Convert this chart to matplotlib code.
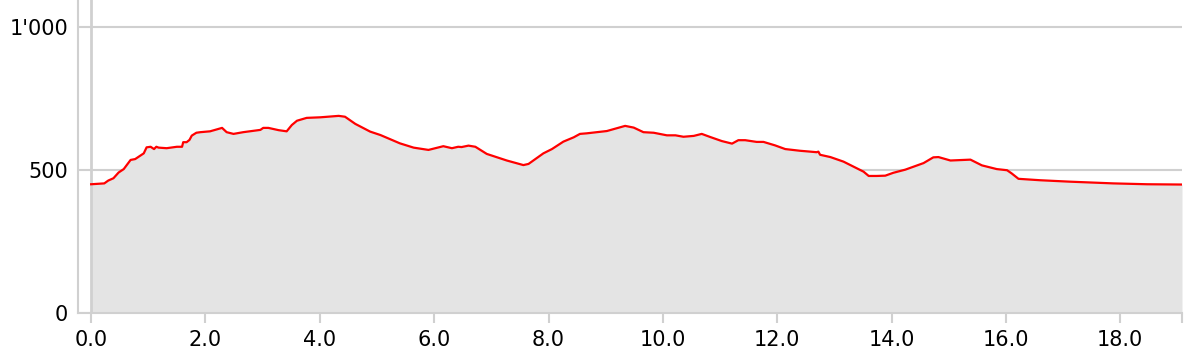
"""
Höhenprofil - Distanz (km) gegen Höhe (m)
"""
import numpy as np

import matplotlib
matplotlib.use('Agg')
import matplotlib.pyplot as plt
from matplotlib.ticker import FuncFormatter

plt.rcParams['font.family'] = ['DejaVu Sans']

# Distanz in km
dist_km = [
    0.00, 0.23, 0.30, 0.39, 0.48, 0.57, 0.69, 0.77, 0.92, 0.97,
    1.04, 1.10, 1.14, 1.18, 1.32, 1.50, 1.59, 1.61, 1.67, 1.72,
    1.76, 1.84, 1.91, 2.08, 2.29, 2.37, 2.49, 2.66, 2.96, 3.01,
    3.10, 3.28, 3.42, 3.51, 3.60, 3.77, 4.01, 4.33, 4.44, 4.62,
    4.88, 5.06, 5.40, 5.64, 5.90, 6.16, 6.31, 6.42, 6.48, 6.60,
    6.72, 6.92, 7.27, 7.56, 7.65, 7.91, 8.06, 8.26, 8.44, 8.55,
    8.67, 9.02, 9.34, 9.49, 9.66, 9.84, 10.07, 10.22, 10.36, 10.54,
    10.68, 10.83, 11.03, 11.21, 11.32, 11.44, 11.64, 11.76, 11.96, 12.14,
    12.40, 12.52, 12.69, 12.72, 12.75, 12.93, 13.16, 13.36, 13.51, 13.60,
    13.74, 13.89, 14.03, 14.24, 14.56, 14.73, 14.82, 15.03, 15.38, 15.58,
    15.84, 16.02, 16.10, 16.22, 16.60, 17.12, 17.88, 18.47, 19.08,
]
# Höhe in m
elev_m = [
    450, 453, 463, 471, 491, 503, 535, 538, 558, 579,
    581, 573, 581, 578, 576, 581, 581, 597, 597, 605,
    620, 630, 632, 635, 647, 632, 626, 632, 640, 647,
    647, 639, 635, 657, 672, 682, 684, 689, 686, 661,
    634, 622, 593, 578, 570, 583, 576, 581, 580, 585,
    581, 556, 533, 517, 521, 558, 573, 599, 614, 626,
    628, 636, 654, 648, 632, 630, 621, 621, 616, 619,
    626, 615, 601, 592, 604, 604, 598, 598, 586, 573,
    567, 565, 562, 564, 553, 545, 529, 509, 494, 479,
    479, 480, 490, 501, 524, 544, 545, 533, 536, 516,
    503, 499, 488, 469, 464, 459, 453, 450, 449,
]

x_ticks = [0, 2, 4, 6, 8, 10, 12, 14, 16, 18]
y_ticks = [0, 500, 1000]

GRID = '#d0d0d0'


def fmt_thousands(v, pos):
    """1000 -> 1'000"""
    return f'{int(v):,}'.replace(',', "'")


fig = plt.figure(figsize=(12.01, 3.63), dpi=100)
ax = fig.add_axes([78 / 1201, 50 / 363, 1104 / 1201, 313 / 363])

x = np.array(dist_km)
y = np.array(elev_m)

ax.fill_between(x, 0, y, color='#e4e4e4', linewidth=0, zorder=2)
ax.plot(x, y, color='#ff0000', linewidth=1.6, zorder=4)
ax.axvline(0, color=GRID, linewidth=2, zorder=3)

ax.set_xlim(-0.23, x[-1])
ax.set_ylim(0, 1094)

ax.set_xticks(x_ticks + [x[-1]])
ax.set_xticklabels([f'{t:.1f}' for t in x_ticks] + [''])
ax.set_yticks(y_ticks)
ax.yaxis.set_major_formatter(FuncFormatter(fmt_thousands))

ax.grid(True, axis='y', color=GRID, linewidth=1.5, zorder=1)
ax.set_axisbelow(True)

for side in ['top', 'right']:
    ax.spines[side].set_visible(False)
for side in ['left', 'bottom']:
    ax.spines[side].set_color(GRID)
    ax.spines[side].set_linewidth(1.5)

ax.tick_params(axis='x', length=7, width=1.5, color=GRID, pad=5.5, labelsize=15)
ax.tick_params(axis='y', length=0, pad=7, labelsize=15)

fig.savefig('out.png', dpi=100)
plt.close(fig)
